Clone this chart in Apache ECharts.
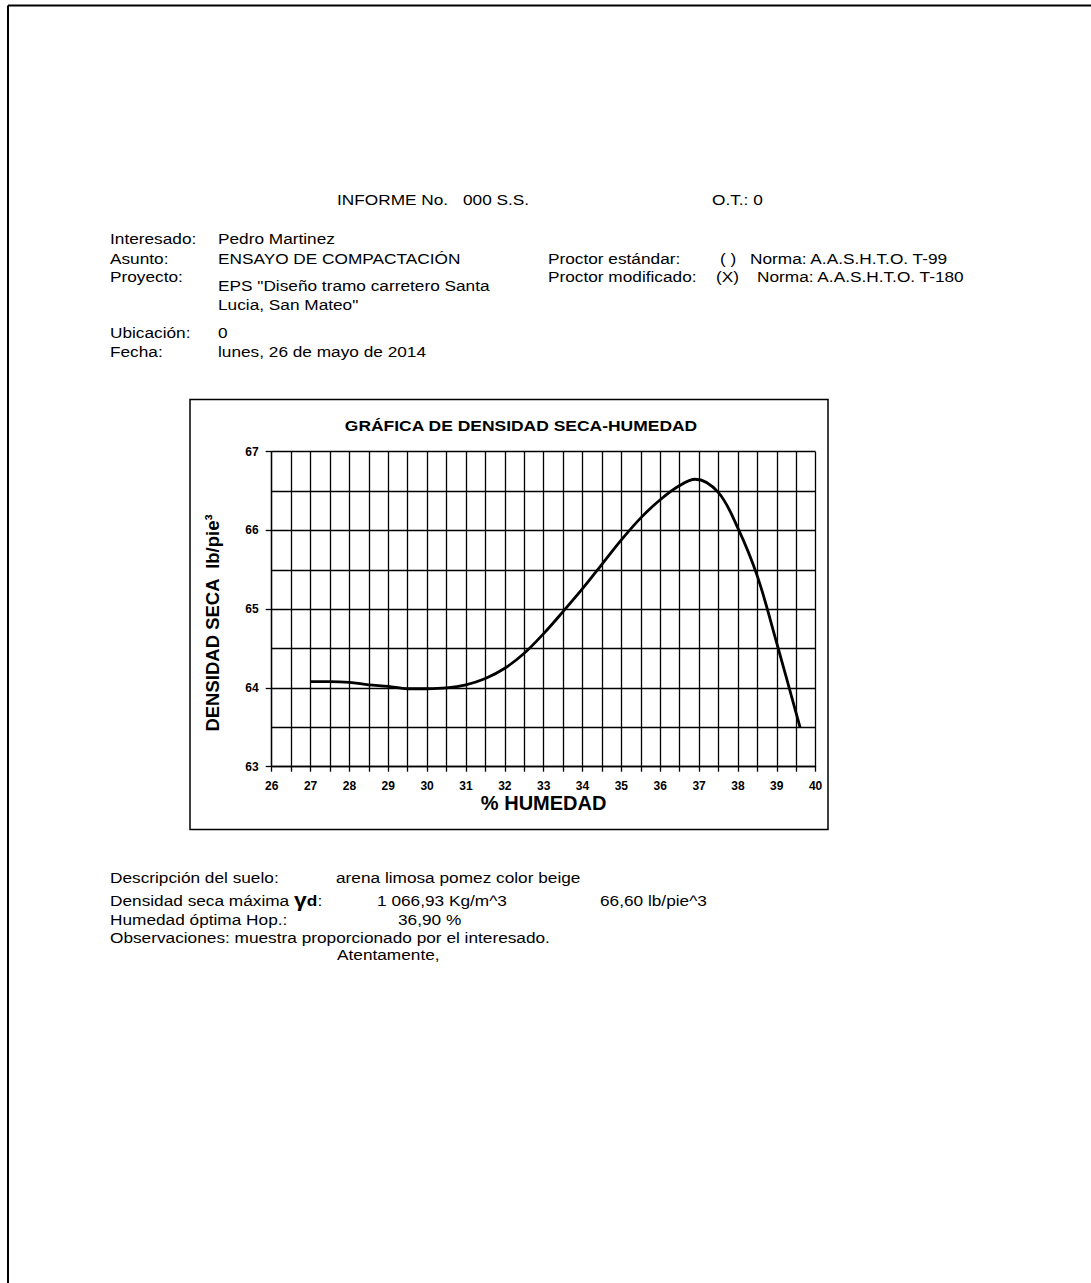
<!DOCTYPE html>
<html>
<head>
<meta charset="utf-8">
<script src="https://cdn.jsdelivr.net/npm/echarts@6/dist/echarts.min.js"></script>
<style>
  html, body { margin: 0; padding: 0; background: #fff; }
  #chart { width: 1091px; height: 1283px; }
</style>
</head>
<body>
<div id="chart"></div>
<script>
// curva de compactación
const humedad = [27, 27.5, 28, 28.5, 29, 29.5, 30, 30.5, 31, 31.5, 32, 32.5, 33, 33.5, 34, 34.5, 35, 35.5, 36, 36.5, 36.9, 37.5, 38, 38.5, 39, 39.6]
const densidad = [64.08, 64.08, 64.07, 64.04, 64.02, 63.99, 63.99, 64.0, 64.04, 64.12, 64.25, 64.44, 64.69, 64.97, 65.26, 65.57, 65.88, 66.16, 66.39, 66.57, 66.65, 66.48, 66.03, 65.42, 64.57, 63.5]

const FONT = 'Liberation Sans, Arial, sans-serif'
const SX = 1.15 // el informe original está algo estirado a lo ancho

const chart = echarts.init(document.getElementById('chart'), null, { renderer: 'svg' })

// texto del informe
const txt = (x, y, text, extra = {}) => ({
  type: 'text',
  x, y,
  scaleX: SX,
  silent: true,
  style: Object.assign({
    text,
    fill: '#000',
    fontFamily: FONT,
    fontSize: 15,
    verticalAlign: 'middle'
  }, extra)
})

const line = (x1, y1, x2, y2, w) => ({
  type: 'line',
  silent: true,
  shape: { x1, y1, x2, y2 },
  style: { stroke: '#000', lineWidth: w }
})

const option = {
  backgroundColor: '#fff',
  animation: false,
  grid: { left: 271.7, right: 275.4, top: 451.7, bottom: 516.3 },
  xAxis: {
    type: 'value',
    min: 26,
    max: 40,
    interval: 1,
    name: '% HUMEDAD',
    nameLocation: 'middle',
    nameGap: 36,
    nameTextStyle: { fontFamily: FONT, fontSize: 20, fontWeight: 'bold', color: '#000', verticalAlign: 'middle' },
    axisLine: { onZero: false, lineStyle: { color: '#000', width: 1.3 } },
    axisTick: { length: 5, lineStyle: { color: '#000', width: 1.3 } },
    minorTick: { show: true, splitNumber: 2, length: 5, lineStyle: { color: '#000', width: 1.3 } },
    axisLabel: { margin: 13, fontFamily: FONT, fontSize: 12, fontWeight: 'bold', color: '#000' },
    splitLine: { show: true, lineStyle: { color: '#000', width: 1.3 } },
    minorSplitLine: { show: true, lineStyle: { color: '#000', width: 1.3 } }
  },
  yAxis: {
    type: 'value',
    min: 63,
    max: 67,
    interval: 1,
    axisLine: { show: true, onZero: false, lineStyle: { color: '#000', width: 1.3 } },
    axisTick: { show: true, length: 6, lineStyle: { color: '#000', width: 1.3 } },
    minorTick: { show: false, splitNumber: 2 },
    axisLabel: { margin: 13, fontFamily: FONT, fontSize: 12, fontWeight: 'bold', color: '#000' },
    splitLine: { show: true, lineStyle: { color: '#000', width: 1.3 } },
    minorSplitLine: { show: true, lineStyle: { color: '#000', width: 1.3 } }
  },
  series: [{
    type: 'line',
    data: humedad.map((h, i) => [h, densidad[i]]),
    smooth: 0.35,
    showSymbol: false,
    lineStyle: { color: '#000', width: 2.8 },
    z: 5
  }],
  graphic: [
    // marco de la página
    line(8, 5.5, 1091, 5.5, 2),
    line(8, 5.5, 8, 1283, 2),

    // encabezado
    txt(337, 199, 'INFORME No.'),
    txt(463, 199, '000 S.S.'),
    txt(712, 199, 'O.T.: 0'),

    txt(110, 238, 'Interesado:'),
    txt(218, 238, 'Pedro Martinez'),
    txt(110, 258, 'Asunto:'),
    txt(218, 258, 'ENSAYO DE COMPACTACIÓN'),
    txt(110, 276, 'Proyecto:'),
    txt(218, 285, 'EPS "Diseño tramo carretero Santa'),
    txt(218, 304, 'Lucia, San Mateo"'),
    txt(110, 332, 'Ubicación:'),
    txt(218, 332, '0'),
    txt(110, 351, 'Fecha:'),
    txt(218, 351, 'lunes, 26 de mayo de 2014'),

    txt(548, 258, 'Proctor estándar:'),
    txt(720, 258, '( )'),
    txt(750, 258, 'Norma: A.A.S.H.T.O. T-99'),
    txt(548, 276, 'Proctor modificado:'),
    txt(716, 276, '(X)'),
    txt(757, 276, 'Norma: A.A.S.H.T.O. T-180'),

    // recuadro de la gráfica
    {
      type: 'rect',
      silent: true,
      shape: { x: 190, y: 399.5, width: 638, height: 430 },
      style: { fill: 'none', stroke: '#000', lineWidth: 1.5 },
      z: -1
    },
    txt(521, 425, 'GRÁFICA DE DENSIDAD SECA-HUMEDAD', { fontSize: 15.2, fontWeight: 'bold', align: 'center' }),
    {
      type: 'text',
      x: 212, y: 623,
      rotation: Math.PI / 2,
      silent: true,
      style: {
        text: 'DENSIDAD SECA  lb/pie³',
        fill: '#000',
        fontFamily: FONT,
        fontSize: 18.5,
        fontWeight: 'bold',
        align: 'center',
        verticalAlign: 'middle'
      }
    },

    // resultados
    txt(110, 877, 'Descripción del suelo:'),
    txt(336, 877, 'arena limosa pomez color beige'),
    txt(110, 900, '{n|Densidad seca máxima }{g|γ}{d|d}{n|:}', {
      rich: {
        n: { fontFamily: FONT, fontSize: 15 },
        g: { fontFamily: FONT, fontSize: 20, fontWeight: 'bold' },
        d: { fontFamily: FONT, fontSize: 15, fontWeight: 'bold' }
      }
    }),
    txt(377, 900, '1 066,93 Kg/m^3'),
    txt(600, 900, '66,60 lb/pie^3'),
    txt(110, 919, 'Humedad óptima Hop.:'),
    txt(398, 919, '36,90 %'),
    txt(110, 937, 'Observaciones: muestra proporcionado por el interesado.'),
    txt(337, 954, 'Atentamente,')
  ]
}

chart.setOption(option)
</script>
</body>
</html>
